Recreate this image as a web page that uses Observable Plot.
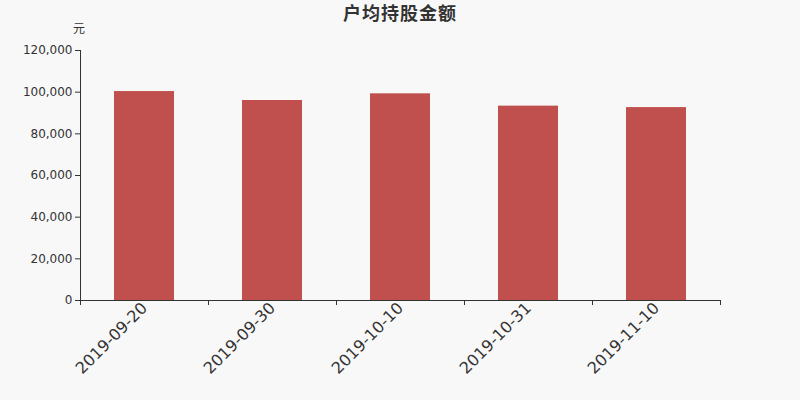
<!DOCTYPE html>
<html><head><meta charset="utf-8">
<script src="https://cdn.jsdelivr.net/npm/d3@7"></script>
<script src="https://cdn.jsdelivr.net/npm/@observablehq/plot@0.6"></script>
<style>
html,body{margin:0;padding:0;background:#f8f8f8;}
#wrap{position:relative;width:800px;height:400px;font-family:"DejaVu Sans","Noto Sans CJK SC",sans-serif;}
#title{position:absolute;left:0;width:800px;top:0px;line-height:25px;text-align:center;font-size:18px;letter-spacing:1px;font-weight:bold;color:#333;font-family:"Noto Sans CJK SC",sans-serif;}
#unit{position:absolute;left:73px;top:19px;font-size:12px;color:#333;font-family:"Noto Sans CJK SC",sans-serif;}
</style></head>
<body><div id="wrap"><div id="title">户均持股金额</div><div id="unit">元</div></div>
<script>
const dates = ["2019-09-20","2019-09-30","2019-10-10","2019-10-31","2019-11-10"];
const values = [100300, 96000, 99200, 93300, 92600];
const yTicks = [0,20000,40000,60000,80000,100000,120000];

const data = dates.map((d,i)=>({date:d, i, value:values[i]}));
const chart = Plot.plot({
  width:800, height:400,
  marginTop:50, marginBottom:100, marginLeft:80, marginRight:80,
  style:{background:"#f8f8f8", fontFamily:"DejaVu Sans, sans-serif", color:"#333"},
  x:{domain:[0,dates.length], axis:null},
  y:{domain:[0,120000], axis:null},
  marks:[
    Plot.rect(data,{x1:d=>d.i, x2:d=>d.i+1, y1:0, y2:"value", fill:"#c0504d", insetLeft:34, insetRight:34}),
    Plot.axisY({ticks:yTicks, tickFormat:d=>d3.format(",")(d), tickSize:5, tickPadding:3, fontSize:12, stroke:"#333", fill:"#333", label:null}),
    Plot.ruleX([0],{stroke:"#333"}),
    Plot.ruleY([0],{stroke:"#333"}),
    Plot.ruleX(d3.range(dates.length+1),{x:d=>d, y1:0, y2:0, insetTop:5, stroke:"#333"}),
    Plot.text(data,{x:d=>d.i+0.5, y:0, text:"date", rotate:-45, textAnchor:"end", fontSize:16, fill:"#333", dy:5, dx:0})
  ]
});
document.getElementById("wrap").prepend(chart);
</script></body></html>
